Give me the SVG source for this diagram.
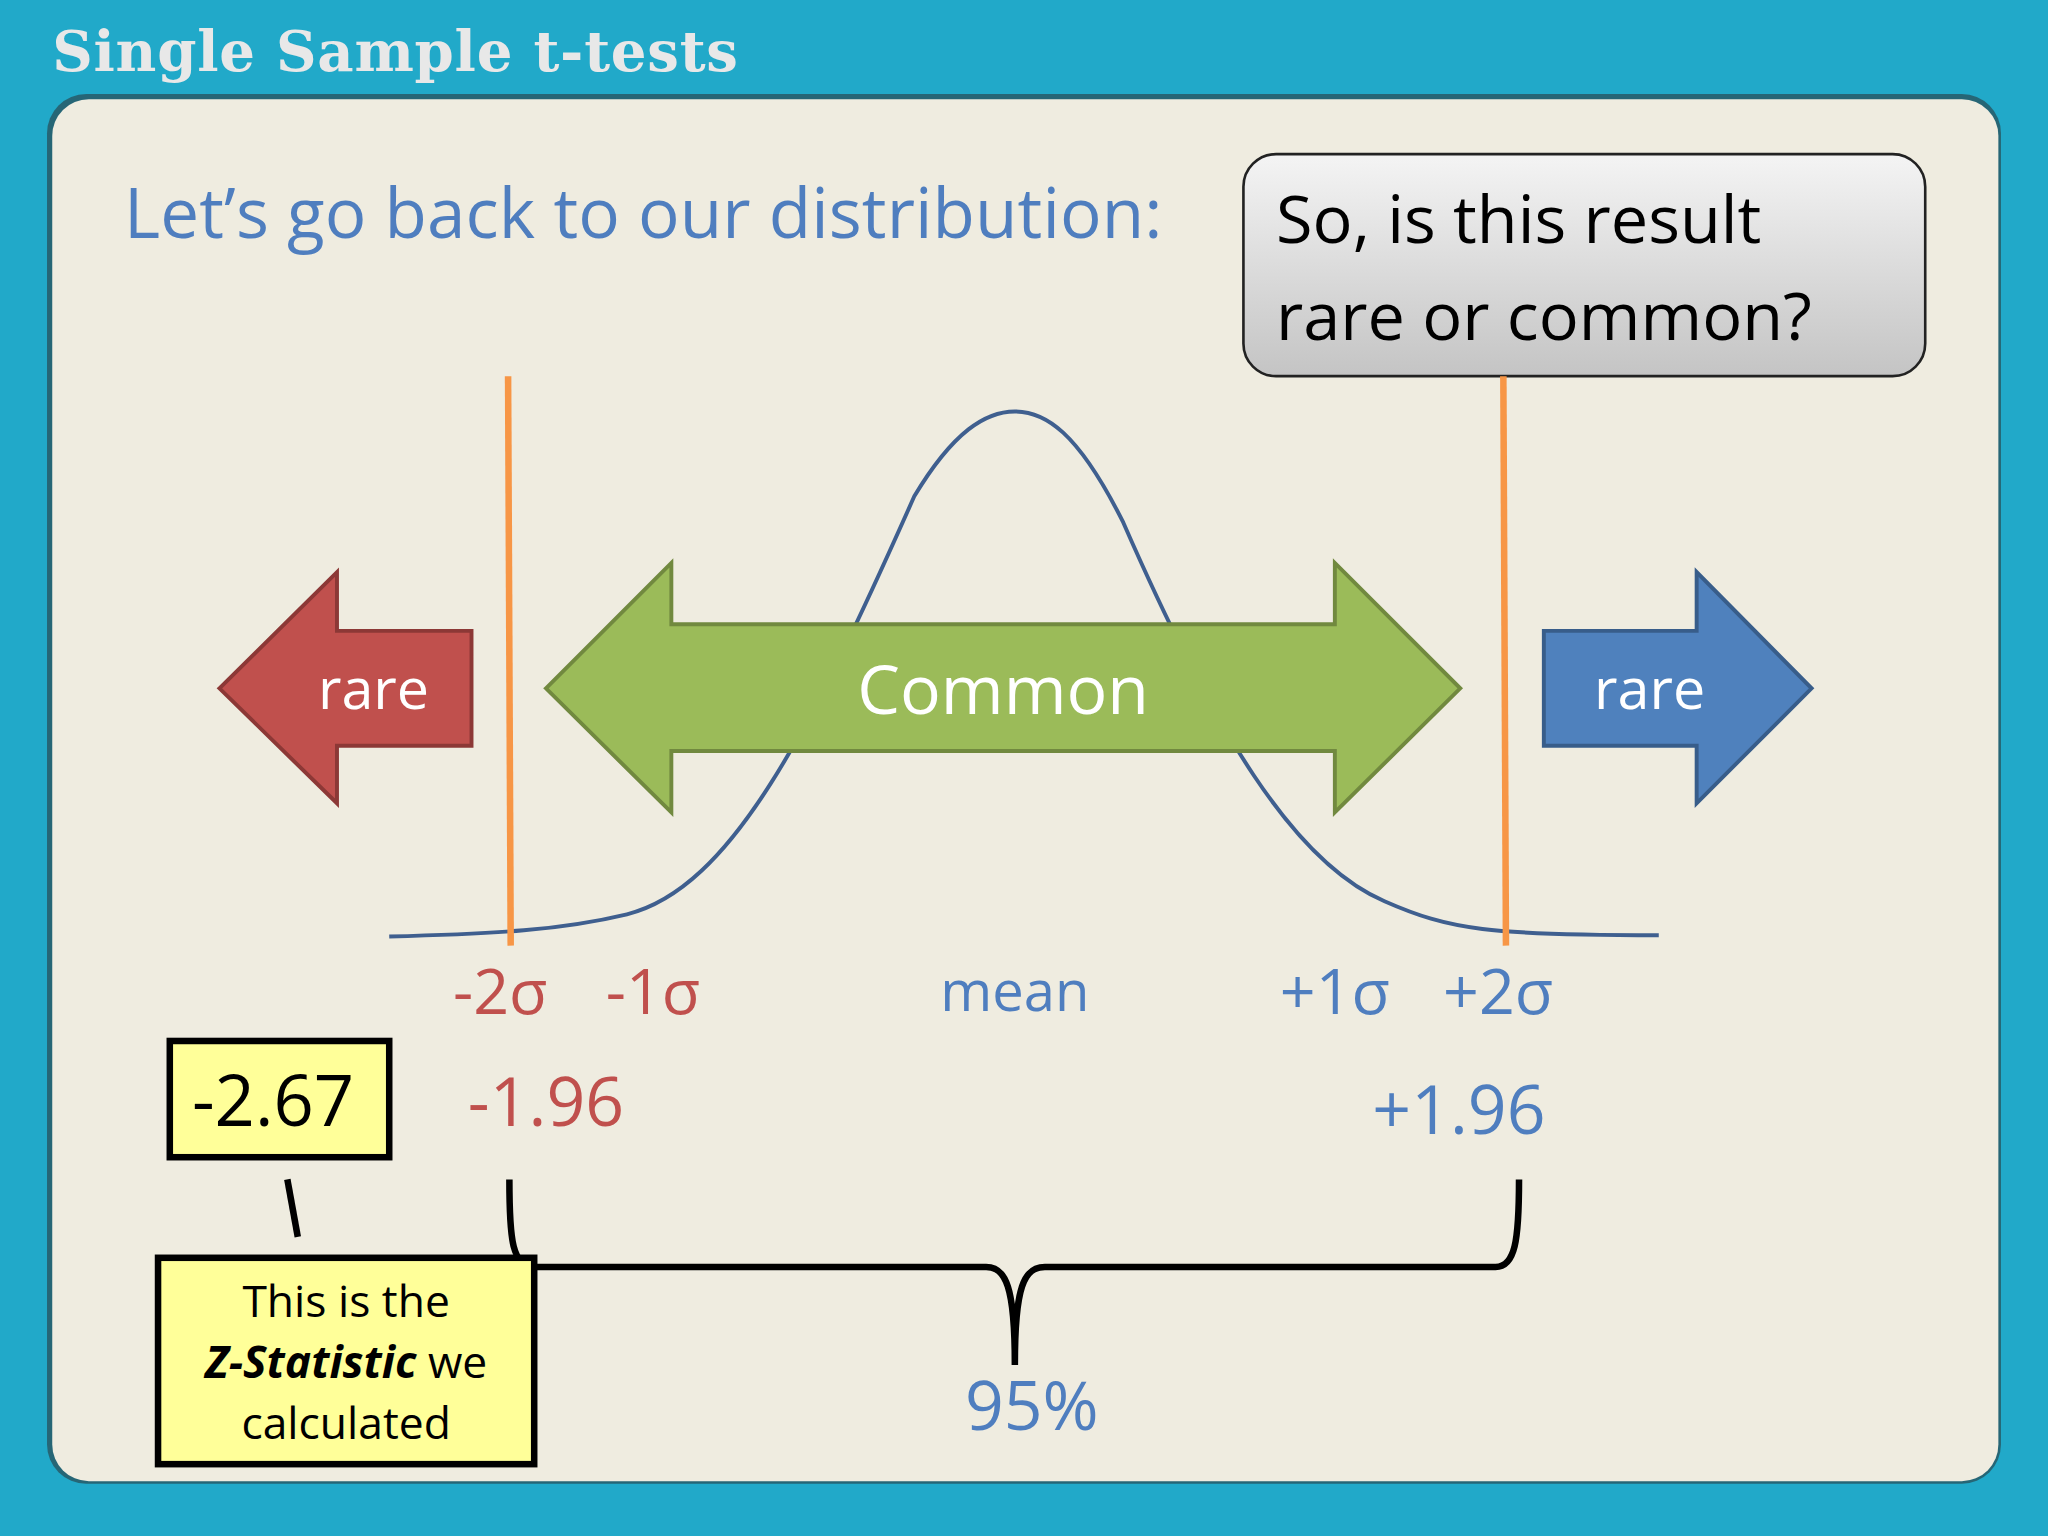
<svg xmlns="http://www.w3.org/2000/svg" width="2048" height="1536" viewBox="0 0 2048 1536">
<defs>
<linearGradient id="g" x1="0" y1="0" x2="0" y2="1"><stop offset="0" stop-color="#f4f4f4"/><stop offset="1" stop-color="#c4c4c4"/></linearGradient>
<style>
text{font-family:"Open Sans","Noto Sans",sans-serif}
.blue{fill:#4F7EBF}.red{fill:#C0504D}
.box{fill:#FFFF99;stroke:#000;stroke-width:5}
.orange{stroke:#F79646;stroke-width:5}
</style>
</defs>
<rect width="2048" height="1536" fill="#21A9C9"/>
<g transform="scale(1.30612)">
<text x="40" y="54" font-weight="bold" font-size="43" fill="#E8E8E8" style="font-family:'DejaVu Serif',serif" textLength="525">Single Sample t-tests</text>
<rect x="36" y="72" width="1496" height="1064" rx="30" fill="#2a3a40" opacity="0.6"/>
<rect x="40" y="76" width="1490" height="1058" rx="28" fill="#EFECE0"/>
<text x="95" y="182" font-size="53" class="blue" textLength="795">Let’s go back to our distribution:</text>
<g id="callout">
<rect x="952" y="118" width="522" height="170" rx="25" fill="url(#g)" stroke="#222" stroke-width="2"/>
<text x="977" y="186" font-size="51">So, is this result</text>
<text x="977" y="260" font-size="51">rare or common?</text>
</g>
<g id="curve"><path d="M298,717 C380,715 430,712 480,700 C560,680 620,560 700,380 C730,330 755,315 777,315 C800,315 825,330 860,400 C930,560 990,660 1060,690 C1110,712 1140,716 1270,716" fill="none" stroke="#3F5F8F" stroke-width="3"/></g>
<g id="connectors">
<line x1="389" y1="288" x2="391" y2="724" class="orange"/>
<line x1="1151" y1="288" x2="1153" y2="724" class="orange"/>
<line x1="220" y1="903" x2="228" y2="947" stroke="#000" stroke-width="5"/>
<path d="M390,903 C390,950 392,970 410,970 L755,970 C770,970 777,985 777,1045 C777,985 784,970 800,970 L1145,970 C1160,970 1163,950 1163,903" fill="none" stroke="#000" stroke-width="5"/>
</g>
<g id="rareL"><polygon points="168,527 258,438 258,483 361,483 361,571 258,571 258,615" fill="#C0504D" stroke="#8C3836" stroke-width="3"/><text x="286" y="543" font-size="44" fill="#fff" text-anchor="middle">rare</text></g>
<g id="common"><polygon points="418,527 514,431 514,478 1022,478 1022,431 1118,527 1022,622 1022,575 514,575 514,622" fill="#9BBB59" stroke="#71893F" stroke-width="3"/><text x="768" y="547" font-size="52" fill="#fff" text-anchor="middle">Common</text></g>
<g id="rareR"><polygon points="1182,483 1299,483 1299,438 1387,527 1299,615 1299,571 1182,571" fill="#4F81BD" stroke="#385D8A" stroke-width="3"/><text x="1263" y="543" font-size="44" fill="#fff" text-anchor="middle">rare</text></g>
<g font-size="48" text-anchor="middle">
<text x="383" y="776" class="red">-2σ</text>
<text x="500" y="776" class="red">-1σ</text>
<text x="777" y="774" class="blue" font-size="43">mean</text>
<text x="1022" y="776" class="blue">+1σ</text>
<text x="1147" y="776" class="blue">+2σ</text>
<text x="418" y="862" class="red" font-size="52">-1.96</text>
<text x="1117" y="868" class="blue" font-size="52">+1.96</text>
<text x="790" y="1095" class="blue" font-size="52">95%</text>
</g>
<g id="z"><rect x="130" y="797" width="168" height="89" class="box"/><text x="209" y="862" font-size="54" text-anchor="middle">-2.67</text></g>
<g id="note"><rect x="121" y="963" width="288" height="158" class="box"/>
<text x="265" y="1008" font-size="34" text-anchor="middle">This is the</text>
<text x="265" y="1055" font-size="34" text-anchor="middle"><tspan font-weight="bold" font-style="italic">Z-Statistic</tspan> we</text>
<text x="265" y="1102" font-size="34" text-anchor="middle">calculated</text></g>
</g>
</svg>
